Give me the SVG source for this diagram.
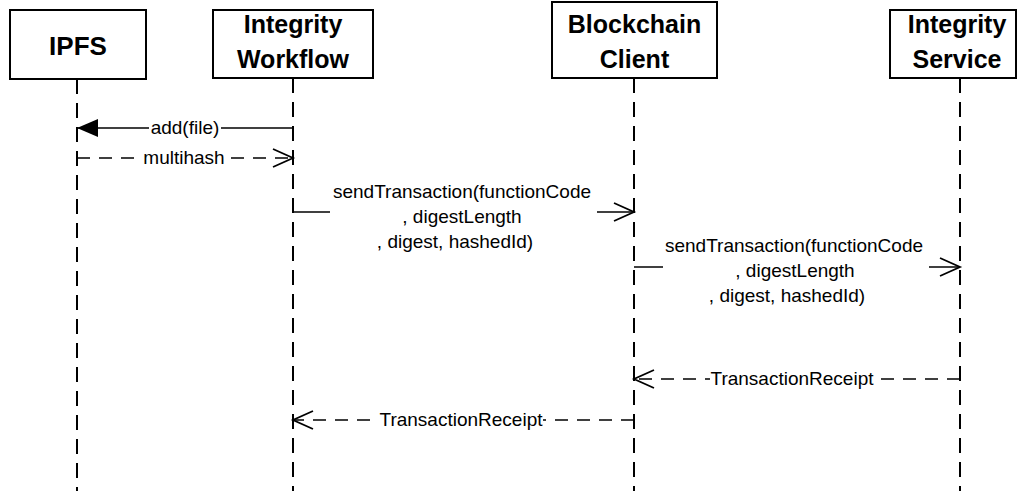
<svg xmlns="http://www.w3.org/2000/svg" width="1018" height="491" viewBox="0 0 1018 491">
  <style>
    .box { fill: #ffffff; stroke: #000000; stroke-width: 2; }
    .title { font-family: "Liberation Sans", Arial, sans-serif; font-weight: bold; font-size: 25px; fill: #000000; text-anchor: middle; }
    .life { stroke: #000000; stroke-width: 2; stroke-dasharray: 15 9; fill: none; }
    .msg { stroke: #000000; stroke-width: 1.7; fill: none; }
    .ret { stroke: #000000; stroke-width: 1.7; fill: none; stroke-dasharray: 13 9; }
    .lbl { font-family: "Liberation Sans", Arial, sans-serif; font-size: 19px; fill: #000000; text-anchor: middle; }
    .bg { fill: #ffffff; stroke: none; }
  </style>
  <defs>
    <marker id="filled" markerUnits="userSpaceOnUse" markerWidth="22" markerHeight="20" viewBox="0 0 22 20" refX="21" refY="10" orient="auto">
      <path d="M0,1 L21,10 L0,19 Z" fill="#000000" stroke="none"/>
    </marker>
    <marker id="open" markerUnits="userSpaceOnUse" markerWidth="24" markerHeight="24" viewBox="0 0 24 24" refX="21" refY="12" orient="auto">
      <path d="M1,3 L21,12 L1,21" fill="none" stroke="#000000" stroke-width="1.8" stroke-dasharray="none"/>
    </marker>
  </defs>

  <rect x="0" y="0" width="1018" height="491" fill="#ffffff"/>

  <!-- participants with their lifelines -->
  <g id="ipfs">
    <line class="life" x1="77" y1="79" x2="77" y2="491"/>
    <rect class="box" x="10" y="10" width="136" height="69"/>
    <text class="title" x="78" y="55" style="font-size:26px">IPFS</text>
  </g>
  <g id="integrity-workflow">
    <line class="life" x1="293" y1="78" x2="293" y2="491"/>
    <rect class="box" x="213" y="10" width="160" height="68"/>
    <text class="title" x="293" y="33">Integrity</text>
    <text class="title" x="293" y="68">Workflow</text>
  </g>
  <g id="blockchain-client">
    <line class="life" x1="634" y1="78" x2="634" y2="491"/>
    <rect class="box" x="552" y="2" width="165" height="76"/>
    <text class="title" x="634.5" y="33">Blockchain</text>
    <text class="title" x="634.5" y="68">Client</text>
  </g>
  <g id="integrity-service">
    <line class="life" x1="960" y1="78" x2="960" y2="491"/>
    <rect class="box" x="890" y="10" width="126" height="68"/>
    <text class="title" x="957" y="33">Integrity</text>
    <text class="title" x="957" y="68">Service</text>
  </g>

  <!-- messages -->
  <g id="connectors">
    <!-- add(file) -->
    <line class="msg" x1="293" y1="128" x2="77" y2="128" marker-end="url(#filled)"/>
    <rect class="bg" x="149" y="117" width="72" height="22"/>
    <text class="lbl" x="185" y="134">add(file)</text>

    <!-- multihash -->
    <line class="ret" x1="77" y1="158" x2="293" y2="158" marker-end="url(#open)"/>
    <rect class="bg" x="142" y="147" width="84" height="22"/>
    <text class="lbl" x="184" y="164">multihash</text>

    <!-- sendTransaction: workflow to client -->
    <line class="msg" x1="293" y1="212" x2="634" y2="212" marker-end="url(#open)"/>
    <rect class="bg" x="330" y="183" width="267" height="70"/>
    <text class="lbl" x="462" y="198">sendTransaction(functionCode</text>
    <text class="lbl" x="462" y="223">, digestLength</text>
    <text class="lbl" x="455" y="248">, digest, hashedId)</text>

    <!-- sendTransaction: client to service -->
    <line class="msg" x1="634" y1="267" x2="960" y2="267" marker-end="url(#open)"/>
    <rect class="bg" x="663" y="237" width="266" height="70"/>
    <text class="lbl" x="794" y="252">sendTransaction(functionCode</text>
    <text class="lbl" x="795" y="277">, digestLength</text>
    <text class="lbl" x="787" y="302">, digest, hashedId)</text>

    <!-- TransactionReceipt: service to client -->
    <line class="ret" x1="960" y1="379" x2="634" y2="379" marker-end="url(#open)"/>
    <rect class="bg" x="710" y="368" width="164" height="22"/>
    <text class="lbl" x="792" y="385">TransactionReceipt</text>

    <!-- TransactionReceipt: client to workflow -->
    <line class="ret" x1="634" y1="420" x2="293" y2="420" marker-end="url(#open)"/>
    <rect class="bg" x="379" y="409" width="164" height="22"/>
    <text class="lbl" x="461" y="426">TransactionReceipt</text>
  </g>
</svg>
